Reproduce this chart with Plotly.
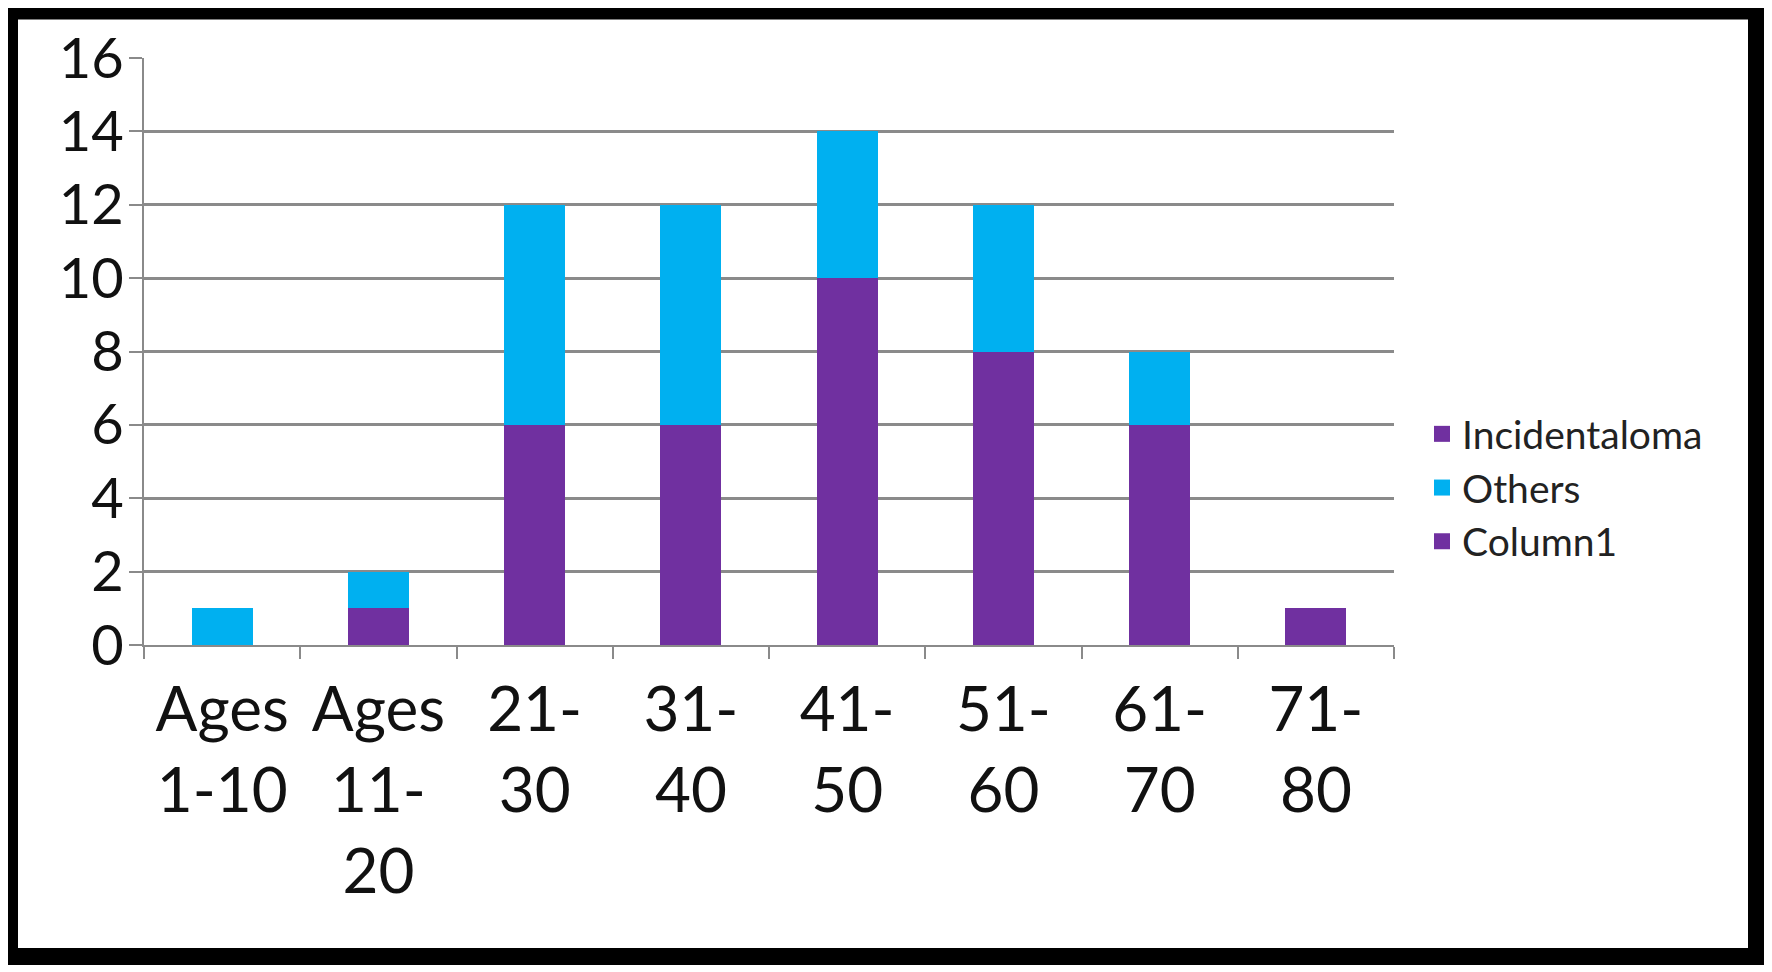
import plotly.graph_objects as go

categories = ["Ages<br>1-10", "Ages<br>11-<br>20", "21-<br>30", "31-<br>40",
              "41-<br>50", "51-<br>60", "61-<br>70", "71-<br>80"]
incidentaloma = [0, 1, 6, 6, 10, 8, 6, 1]
others = [1, 1, 6, 6, 4, 4, 2, 0]
column1 = [0, 0, 0, 0, 0, 0, 0, 0]
legend_names = ["Incidentaloma", "Others", "Column1"]

PURPLE = "#7030A0"
CYAN = "#00B0F0"
GRID = "#8a8a8a"
legend_colors = [PURPLE, CYAN, PURPLE]

# page body has an 8px default margin -> shrink figure and offset positions
OFF = 8
W, H = 1772 - OFF, 972 - OFF
# plot area in screen pixels: x 144..1394, y 58..645
SX0, SX1, SY0, SY1 = 144, 1394, 58, 645
L, T = SX0 - OFF, SY0 - OFF
R, B = W - (SX1 - OFF), H - (SY1 - OFF)
pw, ph = SX1 - SX0, SY1 - SY0

fig = go.Figure()
for name, vals, col in [("Incidentaloma", incidentaloma, PURPLE),
                        ("Others", others, CYAN),
                        ("Column1", column1, PURPLE)]:
    fig.add_trace(go.Bar(x=categories, y=vals, name=name, showlegend=False,
                         marker=dict(color=col, line=dict(width=0))))

# legend entries with larger square swatches
for name, col in zip(legend_names, legend_colors):
    fig.add_trace(go.Scatter(x=[None], y=[None], mode="markers", name=name,
                             marker=dict(symbol="square", size=16, color=col),
                             showlegend=True, hoverinfo="skip"))

def px_x(p):
    return (p - SX0) / pw

def px_y(p):
    return (SY1 - p) / ph

# outer black frame
fig.add_shape(type="rect", xref="paper", yref="paper",
              x0=px_x(9.5), x1=px_x(1756.5), y0=px_y(956.5), y1=px_y(11),
              line=dict(color="black", width=17), fillcolor="rgba(0,0,0,0)",
              layer="above")

fig.update_layout(
    width=W, height=H,
    margin=dict(l=L, r=R, t=T, b=B, pad=0, autoexpand=False),
    barmode="stack",
    bargap=0.61,
    plot_bgcolor="white",
    paper_bgcolor="white",
    font=dict(family="Lato, Carlito, Calibri, sans-serif", color="#111111"),
    showlegend=True,
    legend=dict(
        x=px_x(1422), xanchor="left",
        y=px_y(488), yanchor="middle",
        traceorder="normal",
        font=dict(size=39, color="#222222"),
        bgcolor="rgba(0,0,0,0)",
        itemsizing="trace",
        itemwidth=30,
        tracegroupgap=0,
    ),
    xaxis=dict(
        showline=True, linecolor=GRID, linewidth=2,
        ticks="outside", tickson="boundaries", ticklen=12, tickwidth=2,
        tickcolor=GRID,
        showgrid=False,
        tickfont=dict(size=62, color="#111111"),
        ticklabelstandoff=10,
        automargin=False,
        fixedrange=True,
    ),
    yaxis=dict(
        range=[0, 16], dtick=2,
        showline=True, linecolor=GRID, linewidth=2,
        ticks="outside", ticklen=13, tickwidth=2, tickcolor=GRID,
        showgrid=True, gridcolor=GRID, gridwidth=2.5,
        zeroline=False,
        tickfont=dict(size=56, color="#111111"),
        ticklabelstandoff=-6,
        automargin=False,
        fixedrange=True,
    ),
)

fig.write_html("out.html")
